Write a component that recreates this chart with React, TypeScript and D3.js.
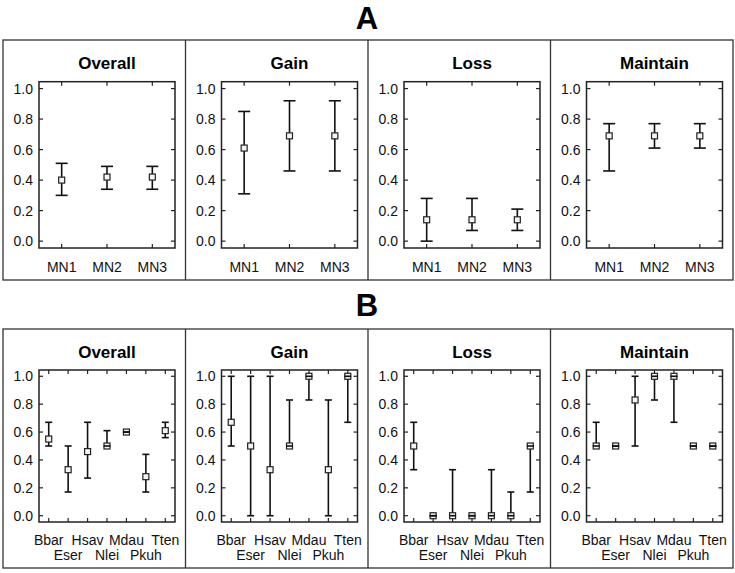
import React, { useEffect, useRef } from "react";
import * as d3 from "d3";

// categories
const catsA = ["MN1", "MN2", "MN3"];
const catsB = ["Bbar", "Eser", "Hsav", "Nlei", "Mdau", "Pkuh", "Tten"];
const panelTitles = ["Overall", "Gain", "Loss", "Maintain"];
const yTicks = [0, 0.2, 0.4, 0.6, 0.8, 1.0];

// [mean, lower, upper] per category
const aOverall = [[0.40, 0.30, 0.51], [0.42, 0.34, 0.49], [0.42, 0.34, 0.49]];
const aGain = [[0.61, 0.31, 0.85], [0.69, 0.46, 0.92], [0.69, 0.46, 0.92]];
const aLoss = [[0.14, 0.0, 0.28], [0.14, 0.07, 0.28], [0.14, 0.07, 0.21]];
const aMaintain = [[0.69, 0.46, 0.77], [0.69, 0.61, 0.77], [0.69, 0.61, 0.77]];

const bOverall = [[0.55, 0.50, 0.67], [0.33, 0.17, 0.50], [0.46, 0.27, 0.67], [0.50, 0.50, 0.61],
  [0.60, 0.60, 0.60], [0.28, 0.17, 0.44], [0.61, 0.56, 0.67]];
const bGain = [[0.67, 0.50, 1.0], [0.50, 0.0, 1.0], [0.33, 0.0, 1.0], [0.50, 0.50, 0.83],
  [1.0, 0.83, 1.0], [0.33, 0.0, 0.83], [1.0, 0.67, 1.0]];
const bLoss = [[0.50, 0.33, 0.67], [0.0, 0.0, 0.0], [0.0, 0.0, 0.33], [0.0, 0.0, 0.0],
  [0.0, 0.0, 0.33], [0.0, 0.0, 0.17], [0.50, 0.17, 0.50]];
const bMaintain = [[0.50, 0.50, 0.67], [0.50, 0.50, 0.50], [0.83, 0.50, 1.0], [1.0, 0.83, 1.0],
  [1.0, 0.67, 1.0], [0.50, 0.50, 0.50], [0.50, 0.50, 0.50]];

const FONT = "Liberation Sans, Arial, sans-serif";

export default function App() {
  const ref = useRef<SVGSVGElement>(null);

  useEffect(() => {
    const svg = d3.select(ref.current);
    svg.selectAll("*").remove();

    const x0 = 3, x1 = 733;
    const pw = (x1 - x0) / 4;

    const rows = [
      { label: "A", labelY: 28.5, top: 40, bottom: 280, pTop: 81.7, pBot: 248, cats: catsA,
        data: [aOverall, aGain, aLoss, aMaintain], cap: 6, twoRows: false },
      { label: "B", labelY: 316, top: 329, bottom: 568, pTop: 370, pBot: 522, cats: catsB,
        data: [bOverall, bGain, bLoss, bMaintain], cap: 3.5, twoRows: true },
    ];

    rows.forEach(row => {
      svg.append("text")
        .attr("x", 367).attr("y", row.labelY)
        .attr("text-anchor", "middle")
        .style("font-family", FONT).style("font-weight", "bold").style("font-size", "31px")
        .text(row.label);

      svg.append("rect")
        .attr("x", x0).attr("y", row.top)
        .attr("width", x1 - x0).attr("height", row.bottom - row.top)
        .attr("fill", "none").attr("stroke", "#333").attr("stroke-width", 1.3);

      row.data.forEach((series, pi) => {
        const left = x0 + pi * pw;
        if (pi > 0) {
          svg.append("line")
            .attr("x1", left).attr("x2", left).attr("y1", row.top).attr("y2", row.bottom)
            .attr("stroke", "#333").attr("stroke-width", 1.3);
        }
        const g = svg.append("g");
        const pl = left + 36, pr = left + 172;

        const x = d3.scaleLinear().domain([0.5, row.cats.length + 0.5]).range([pl, pr]);
        const y = d3.scaleLinear().domain([-0.045, 1.045]).range([row.pBot, row.pTop]);

        g.append("text")
          .attr("x", (pl + pr) / 2).attr("y", row.top + 29)
          .attr("text-anchor", "middle")
          .style("font-family", FONT).style("font-weight", "bold").style("font-size", "17px")
          .text(panelTitles[pi]);

        // y ticks (inward on both sides)
        yTicks.forEach(t => {
          g.append("line").attr("x1", pl).attr("x2", pl + 4).attr("y1", y(t)).attr("y2", y(t))
            .attr("stroke", "#222").attr("stroke-width", 1.2);
          g.append("line").attr("x1", pr).attr("x2", pr - 4).attr("y1", y(t)).attr("y2", y(t))
            .attr("stroke", "#222").attr("stroke-width", 1.2);
          g.append("text")
            .attr("x", pl - 6).attr("y", y(t) + 5)
            .attr("text-anchor", "end")
            .style("font-family", FONT).style("font-size", "14px").attr("fill", "#111")
            .text(d3.format(".1f")(t));
        });

        // x ticks (inward top and bottom) and labels
        row.cats.forEach((c, i) => {
          const cx = x(i + 1);
          g.append("line").attr("x1", cx).attr("x2", cx).attr("y1", row.pTop).attr("y2", row.pTop + 4)
            .attr("stroke", "#222").attr("stroke-width", 1.2);
          g.append("line").attr("x1", cx).attr("x2", cx).attr("y1", row.pBot).attr("y2", row.pBot - 4)
            .attr("stroke", "#222").attr("stroke-width", 1.2);
          const ly = row.twoRows ? (i % 2 === 0 ? row.pBot + 23 : row.pBot + 38) : row.pBot + 24;
          g.append("text")
            .attr("x", cx).attr("y", ly)
            .attr("text-anchor", "middle")
            .style("font-family", FONT).style("font-size", "14px").attr("fill", "#111")
            .text(c);
        });

        g.append("rect")
          .attr("x", pl).attr("y", row.pTop)
          .attr("width", pr - pl).attr("height", row.pBot - row.pTop)
          .attr("fill", "none").attr("stroke", "#222").attr("stroke-width", 1.5);

        // error bars
        series.forEach((d, i) => {
          const cx = x(i + 1);
          const [m, lo, hi] = d;
          g.append("line").attr("x1", cx).attr("x2", cx).attr("y1", y(lo)).attr("y2", y(hi))
            .attr("stroke", "#111").attr("stroke-width", 1.6);
          g.append("rect")
            .attr("x", cx - 3).attr("y", y(m) - 3).attr("width", 6).attr("height", 6)
            .attr("fill", "#f4f4f4").attr("stroke", "#222").attr("stroke-width", 1.2);
          [lo, hi].forEach(v => {
            g.append("line").attr("x1", cx - row.cap).attr("x2", cx + row.cap)
              .attr("y1", y(v)).attr("y2", y(v))
              .attr("stroke", "#111").attr("stroke-width", 1.6);
          });
        });
      });
    });
  }, []);

  return (
    <svg ref={ref} width={735} height={573}
      style={{ position: "absolute", left: 0, top: 0, background: "#fff" }} />
  );
}
